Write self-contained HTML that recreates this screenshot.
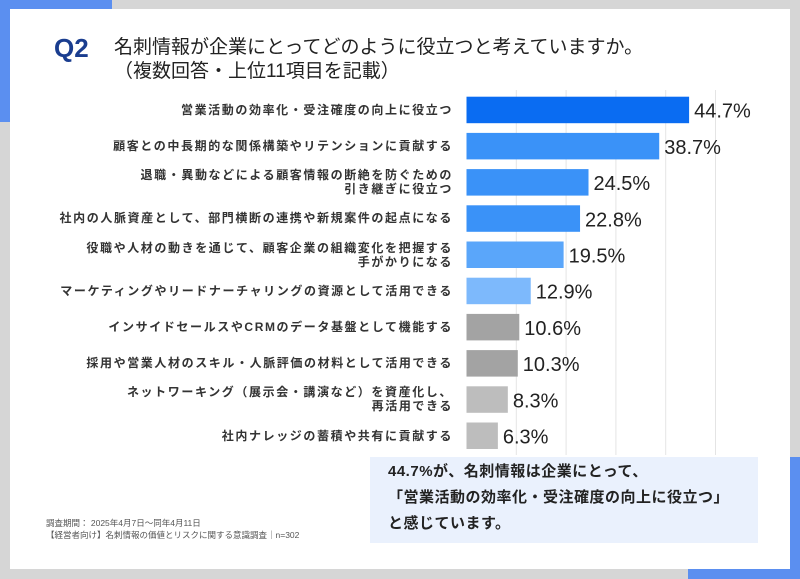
<!DOCTYPE html>
<html><head><meta charset="utf-8"><style>
body{margin:0;width:800px;height:579px;overflow:hidden;background:#d6d6d6;position:relative;font-family:"Liberation Sans","Noto Sans CJK JP",sans-serif}
div{position:absolute}
.lbl{right:347px;text-align:right;font-size:12px;letter-spacing:1.6px;color:#333;font-weight:bold;line-height:14px;white-space:nowrap}
</style></head><body>
<div style="left:0;top:0;width:112px;height:122px;background:#5b8ff0"></div>
<div style="left:688px;top:457px;width:112px;height:122px;background:#5b8ff0"></div>
<div style="left:10px;top:9px;width:780px;height:560px;background:#fff"></div>
<div style="left:54px;top:33px;font-size:26px;font-weight:bold;color:#1a3d8f">Q2</div>
<div style="left:114px;top:36px;font-size:19px;color:#222;line-height:24px">名刺情報が企業にとってどのように役立つと考えていますか。<br>（複数回答・上位11項目を記載）</div>
<svg id="chart" width="800" height="579" style="position:absolute;left:0;top:0"></svg>
<div id="labels" style="left:0;top:0;width:800px;height:579px"></div>
<div style="left:370px;top:457px;width:388px;height:86px;background:#eaf1fd"></div>
<div style="left:388px;top:459px;font-size:15px;letter-spacing:0.5px;color:#222;line-height:26px;font-weight:bold">44.7%が、名刺情報は企業にとって、<br>「営業活動の効率化・受注確度の向上に役立つ」<br>と感じています。</div>
<div style="left:46px;top:517px;font-size:8.5px;color:#555;line-height:12px">調査期間： 2025年4月7日～同年4月11日<br>【経営者向け】名刺情報の価値とリスクに関する意識調査｜n=302</div>
<script>
const categories=["営業活動の効率化・受注確度の向上に役立つ","顧客との中長期的な関係構築やリテンションに貢献する","退職・異動などによる顧客情報の断絶を防ぐための<br>引き継ぎに役立つ","社内の人脈資産として、部門横断の連携や新規案件の起点になる","役職や人材の動きを通じて、顧客企業の組織変化を把握する<br>手がかりになる","マーケティングやリードナーチャリングの資源として活用できる","インサイドセールスやCRMのデータ基盤として機能する","採用や営業人材のスキル・人脈評価の材料として活用できる","ネットワーキング（展示会・講演など）を資産化し、<br>再活用できる","社内ナレッジの蓄積や共有に貢献する"];
const values=[44.7,38.7,24.5,22.8,19.5,12.9,10.6,10.3,8.3,6.3];
const colors=["#0a6cf2","#3a92f8","#3a92f8","#3a92f8","#5aa6fa","#7db9fc","#a3a3a3","#a3a3a3","#bdbdbd","#bdbdbd"];
const gridTicks=[10,20,30,40,50];
const svg=document.getElementById('chart');const NS='http://www.w3.org/2000/svg';
const x=v=>466.5+v*4.98;
const y=i=>96.7+i*36.2;
gridTicks.forEach(t=>{const l=document.createElementNS(NS,'line');


l.setAttribute('x1',x(t));l.setAttribute('x2',x(t));l.setAttribute('y1',90);l.setAttribute('y2',455);l.setAttribute('stroke','#e4e4e4');l.setAttribute('stroke-width','1');svg.appendChild(l);});
const lab=document.getElementById('labels');
values.forEach((v,i)=>{const r=document.createElementNS(NS,'rect');


r.setAttribute('x',x(0));r.setAttribute('y',y(i));r.setAttribute('width',x(v)-x(0));r.setAttribute('height',26.5);r.setAttribute('fill',colors[i]);svg.appendChild(r);
const t=document.createElementNS(NS,'text');


t.setAttribute('x',x(v)+5);t.setAttribute('y',y(i)+21);t.setAttribute('font-size','20');t.setAttribute('fill','#222');t.setAttribute('font-family','Liberation Sans, sans-serif');t.textContent=v.toFixed(1)+'%';svg.appendChild(t);
const d=document.createElement('div');


d.className='lbl';d.innerHTML=categories[i];const two=categories[i].includes('<br>');d.style.top=(y(i)+(two?-1:6))+'px';lab.appendChild(d);});
</script>
</body></html>
